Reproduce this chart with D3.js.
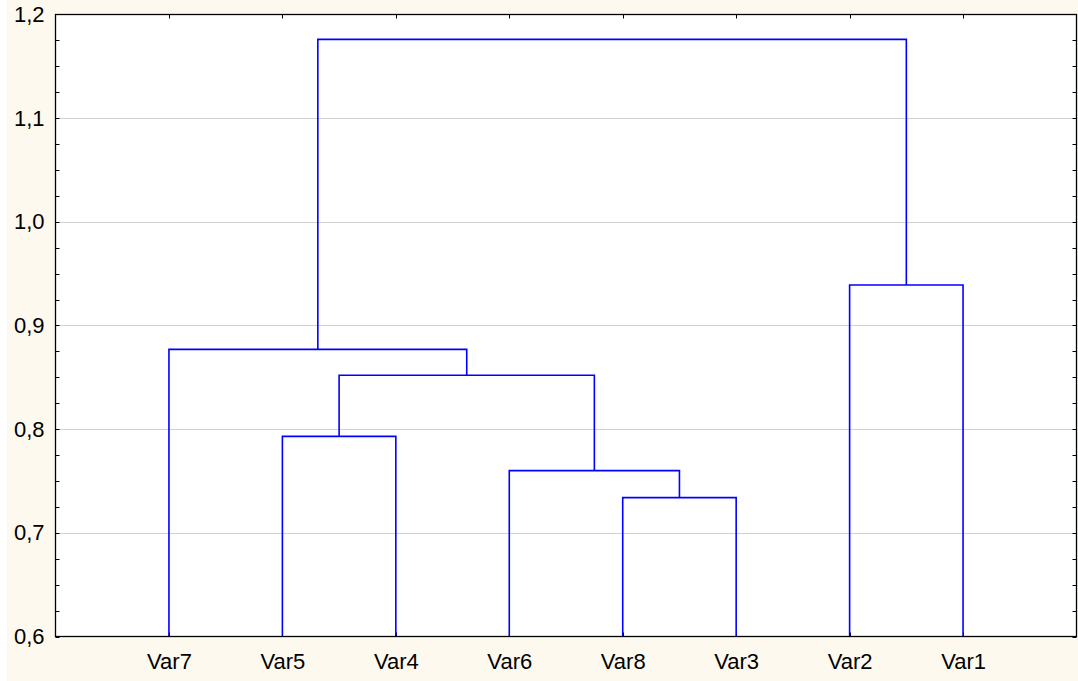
<!DOCTYPE html>
<html lang="en"><head><meta charset="UTF-8">
<title>Dendrogram</title>
<script src="https://cdn.jsdelivr.net/npm/d3@7"></script>
<style>
  body { margin: 0; background: #fff; }
  text { font-family: "Liberation Sans", Arial, sans-serif; }
</style>
</head>
<body>
<script>
// leaf order along x
var leaves = ["Var7", "Var5", "Var4", "Var6", "Var8", "Var3", "Var2", "Var1"];
// merges: [left, right, height] ; node ids "n0".. refer to previous merges
var merges = [
  ["Var8", "Var3", 0.734],
  ["Var6", "n0", 0.760],
  ["Var5", "Var4", 0.793],
  ["n2", "n1", 0.852],
  ["Var7", "n3", 0.877],
  ["Var2", "Var1", 0.939],
  ["n4", "n5", 1.176]
];
var yTicks = [0.6, 0.7, 0.8, 0.9, 1.0, 1.1, 1.2];

var W = 1078, H = 681;
var m = {left: 55.5, right: 1076.5, top: 14.5, bottom: 636.5};

var svg = d3.select("body").append("svg").attr("width", W).attr("height", H);
svg.append("rect").attr("x", 7).attr("y", 0).attr("width", W - 7).attr("height", H).attr("fill", "#fdf9ef");
svg.append("rect").attr("x", m.left).attr("y", m.top)
  .attr("width", m.right - m.left).attr("height", m.bottom - m.top).attr("fill", "#fff");

var x = d3.scalePoint().domain(leaves).range([m.left, m.right]).padding(1);
var y = d3.scaleLinear().domain([0.6, 1.2]).range([m.bottom, m.top]);
var fmt = function(d) { return d3.format(".1f")(d).replace(".", ","); };

// gridlines
svg.append("g").selectAll("line").data(yTicks.slice(1, -1)).enter().append("line")
  .attr("x1", m.left).attr("x2", m.right)
  .attr("y1", function(d) { return Math.round(y(d)) + 0.5; })
  .attr("y2", function(d) { return Math.round(y(d)) + 0.5; })
  .attr("stroke", "#a0a0a0").attr("stroke-dasharray", "1,1");

// left axis with minor ticks inward
var minor = d3.range(0.6, 1.2001, 0.025);
var yAx = d3.axisLeft(y).tickValues(yTicks).tickFormat(fmt).tickSize(0).tickPadding(11);
var gy = svg.append("g").attr("transform", "translate(" + m.left + ",0)").call(yAx);
gy.select(".domain").remove();
gy.selectAll("text").style("font-size", "22px").attr("fill", "#000");
[m.left, m.right].forEach(function(xx, k) {
  svg.append("g").selectAll("line").data(minor).enter().append("line")
    .attr("x1", xx).attr("x2", k ? xx - 4 : xx + 4)
    .attr("y1", function(d) { return Math.round(y(d)) + 0.5; })
    .attr("y2", function(d) { return Math.round(y(d)) + 0.5; })
    .attr("stroke", "#000");
});

// bottom axis
var xAx = d3.axisBottom(x).tickSize(0).tickPadding(17);
var gx = svg.append("g").attr("transform", "translate(0," + m.bottom + ")").call(xAx);
gx.select(".domain").remove();
gx.selectAll("text").style("font-size", "22px").attr("fill", "#000");
[m.bottom, m.top].forEach(function(yy, k) {
  svg.append("g").selectAll("line").data(leaves).enter().append("line")
    .attr("x1", function(d) { return Math.round(x(d)) + 0.5; })
    .attr("x2", function(d) { return Math.round(x(d)) + 0.5; })
    .attr("y1", yy).attr("y2", k ? yy + 4 : yy - 4)
    .attr("stroke", "#000");
});

// dendrogram links
var pos = {};
leaves.forEach(function(l) { pos[l] = {x: x(l), h: 0.6}; });
var gl = svg.append("g").attr("fill", "none").attr("stroke", "#0000ff").attr("stroke-width", 1.6);
merges.forEach(function(mg, i) {
  var a = pos[mg[0]], b = pos[mg[1]], h = mg[2];
  gl.append("path").attr("d",
    "M" + a.x + "," + y(a.h) + "V" + y(h) + "H" + b.x + "V" + y(b.h));
  pos["n" + i] = {x: (a.x + b.x) / 2, h: h};
});

// frame
svg.append("rect").attr("x", m.left).attr("y", m.top)
  .attr("width", m.right - m.left).attr("height", m.bottom - m.top)
  .attr("fill", "none").attr("stroke", "#000").attr("stroke-width", 1.3);
</script>
</body></html>
